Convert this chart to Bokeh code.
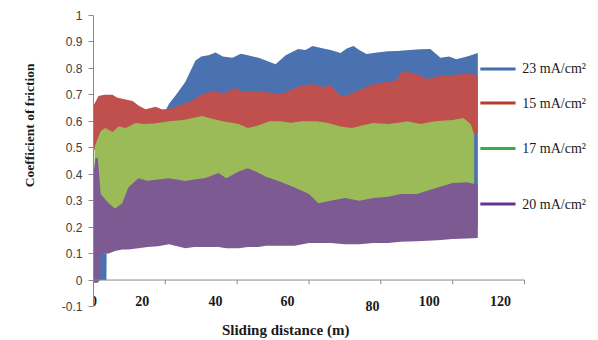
import math
from bokeh.plotting import figure
from bokeh.models import Range1d, FixedTicker, Title
from bokeh.core.properties import value
from bokeh.embed import file_html
from bokeh.resources import INLINE

# ---------------- data ----------------
# 23 mA/cm2 (blue) band
blue_x = [1.8, 3.6, 3.7, 10, 20, 21, 23, 25.6, 27, 28.4, 30, 32, 34, 36, 38.7, 41, 43, 46, 48, 50.7,
          53.5, 55, 57, 59, 61, 64, 66, 68.8, 70.5, 72.4, 74, 76, 79, 82, 84.6, 88, 91, 93.8, 96.6,
          99, 101, 104, 107]
blue_hi = [0.1, 0.1, 0.6, 0.6, 0.64, 0.665, 0.70, 0.75, 0.79, 0.83, 0.845, 0.85, 0.86, 0.845, 0.84,
           0.855, 0.85, 0.84, 0.83, 0.816, 0.85, 0.86, 0.873, 0.87, 0.885, 0.875, 0.87, 0.858, 0.875,
           0.885, 0.87, 0.854, 0.86, 0.865, 0.866, 0.87, 0.872, 0.873, 0.84, 0.845, 0.835, 0.845, 0.858]
blue_lo = [0.0, 0.0, 0.2, 0.2, 0.2, 0.2, 0.2, 0.2, 0.2, 0.2, 0.2, 0.2, 0.2, 0.2, 0.2, 0.2, 0.2, 0.2,
           0.2, 0.2, 0.2, 0.2, 0.2, 0.2, 0.2, 0.2, 0.2, 0.2, 0.2, 0.2, 0.2, 0.2, 0.2, 0.2, 0.2, 0.2,
           0.2, 0.2, 0.2, 0.2, 0.2, 0.2, 0.2]

# 15 mA/cm2 (red) band
red_x = [0, 1.4, 3, 5.3, 6.5, 8, 10.9, 12.5, 14.5, 17.3, 19, 20.9, 23, 24.8, 27, 30, 32, 34, 36, 39.5,
         42, 45, 48, 52.6, 56, 58, 61, 64, 66, 68.8, 71, 73.4, 76, 78, 82, 84, 86, 88, 90, 93, 96,
         100, 104, 107]
red_hi = [0.66, 0.696, 0.70, 0.70, 0.69, 0.685, 0.677, 0.66, 0.646, 0.655, 0.646, 0.646, 0.655, 0.665,
          0.675, 0.70, 0.71, 0.715, 0.705, 0.726, 0.71, 0.715, 0.71, 0.703, 0.726, 0.735, 0.74, 0.73,
          0.735, 0.695, 0.70, 0.715, 0.73, 0.74, 0.75, 0.75, 0.79, 0.785, 0.778, 0.76, 0.77, 0.775,
          0.78, 0.775]
red_lo = [0.49, 0.5, 0.5, 0.5, 0.5, 0.5, 0.5, 0.5, 0.5, 0.5, 0.5, 0.5, 0.5, 0.5, 0.5, 0.5, 0.5, 0.5,
          0.5, 0.5, 0.5, 0.5, 0.5, 0.5, 0.5, 0.5, 0.5, 0.5, 0.5, 0.5, 0.5, 0.5, 0.5, 0.5, 0.5, 0.5,
          0.5, 0.5, 0.5, 0.5, 0.5, 0.5, 0.55, 0.555]

# 17 mA/cm2 (green) band
green_x = [0.3, 0.6, 2, 3.3, 5.3, 7, 9, 11.7, 14, 17, 21, 25, 30.3, 33, 36, 40.4, 43, 46, 49, 52, 55,
           58, 62, 65, 68.8, 72, 75, 78, 82, 85, 87.4, 91, 95, 100, 103, 105, 106]
green_hi = [0.50, 0.514, 0.563, 0.575, 0.56, 0.58, 0.575, 0.594, 0.59, 0.592, 0.60, 0.605, 0.62, 0.61,
            0.60, 0.59, 0.575, 0.585, 0.60, 0.60, 0.595, 0.60, 0.60, 0.595, 0.58, 0.575, 0.585, 0.594,
            0.59, 0.595, 0.60, 0.59, 0.60, 0.605, 0.613, 0.59, 0.55]
green_lo = [0.25, 0.25, 0.25, 0.25, 0.25, 0.25, 0.25, 0.25, 0.25, 0.25, 0.25, 0.25, 0.25, 0.25, 0.25,
            0.25, 0.25, 0.25, 0.25, 0.25, 0.25, 0.25, 0.25, 0.25, 0.25, 0.25, 0.25, 0.25, 0.25, 0.25,
            0.25, 0.25, 0.25, 0.25, 0.25, 0.25, 0.3]

# 20 mA/cm2 (purple) band
purple_x = [0, 0.5, 1.2, 1.8, 2, 4.2, 6, 8, 9.7, 12.5, 15, 18, 21, 25.6, 28, 31.2, 34.8, 37, 40.4, 43,
            46, 48, 51.5, 56, 60, 62.6, 66, 70, 74, 78, 82, 85.5, 90, 95.8, 100, 104, 107]
purple_hi = [0.40, 0.46, 0.46, 0.36, 0.325, 0.29, 0.27, 0.29, 0.35, 0.385, 0.375, 0.38, 0.385, 0.374,
             0.38, 0.386, 0.405, 0.385, 0.41, 0.423, 0.405, 0.39, 0.374, 0.35, 0.325, 0.29, 0.30, 0.31,
             0.30, 0.31, 0.315, 0.325, 0.325, 0.35, 0.367, 0.37, 0.36]
purple_lo = [-0.01, -0.01, -0.01, 0.0, 0.098, 0.10, 0.11, 0.115, 0.115, 0.12, 0.125, 0.128, 0.135, 0.12,
             0.125, 0.125, 0.125, 0.12, 0.12, 0.125, 0.125, 0.13, 0.13, 0.13, 0.14, 0.14, 0.14, 0.135,
             0.135, 0.14, 0.14, 0.145, 0.147, 0.15, 0.155, 0.157, 0.159]

series_names = ["23 mA/cm\u00b2", "15 mA/cm\u00b2", "17 mA/cm\u00b2", "20 mA/cm\u00b2"]
legend_y = [0.798, 0.669, 0.497, 0.287]

y_tick_labels = ["-0.1", "0", "0.1", "0.2", "0.3", "0.4", "0.5", "0.6", "0.7", "0.8", "0.9", "1"]
x_ticks = [0, 20, 40, 60, 80, 100, 120]
x_tick_labels = ["0", "20", "40", "60", "80", "100", "120"]
# where the labels sit in the picture (they are not on the tick marks)
x_label_pos = [0, 13.6, 34, 54, 77.7, 93.5, 113.3]
x_label_y = [-0.079, -0.079, -0.079, -0.079, -0.098, -0.079, -0.079]

x_title = "Sliding distance (m)"
y_title = "Coefficient of friction"

# ---------------- styling ----------------
fill_colors = ["#4a72b0", "#c0504d", "#9bbb59", "#7d5a92"]
legend_colors = ["#3f6fad", "#b83b32", "#3aaa4a", "#6b3388"]
serif = "Liberation Serif"
axis_grey = "#8a8a8a"
ink = "#1a1a1a"

# axis 0..120 spans 431 px, -0.1..1 spans 291 px; the frame runs on to the
# right and bottom edges of the canvas so that all texts live inside it
px_per_x = 431 / 120.0
px_per_y = 291 / 1.1
x_end = 120 + 74 / px_per_x
y_start = -0.1 - 34 / px_per_y

p = figure(width=598, height=340, output_backend="svg", toolbar_location=None,
           x_range=Range1d(0, x_end), y_range=Range1d(y_start, 1.0),
           min_border_left=93, min_border_right=0, min_border_top=15, min_border_bottom=0)
p.outline_line_color = None
p.grid.visible = False
p.xaxis.visible = False
p.background_fill_color = "white"
p.border_fill_color = "white"

ya = p.yaxis[0]
y_ticks = [float(s) for s in y_tick_labels]
ya.ticker = FixedTicker(ticks=y_ticks)
ya.bounds = (y_ticks[0], y_ticks[-1])
ya.major_label_overrides = {float(s): s for s in y_tick_labels}
ya.axis_line_color = axis_grey
ya.major_tick_line_color = axis_grey
ya.major_tick_out = 5
ya.major_tick_in = 0
ya.minor_tick_line_color = None
ya.major_label_standoff = 6
ya.major_label_text_font = "Liberation Sans"
ya.major_label_text_font_size = "12px"
ya.major_label_text_color = "#404040"

p.add_layout(Title(text=y_title, align="right", offset=48, standoff=40, vertical_align="top",
                   text_font=serif, text_font_style="bold", text_font_size="13.5px",
                   text_color=ink), "left")

# bands
bands = [(blue_x, blue_lo, blue_hi), (red_x, red_lo, red_hi),
         (green_x, green_lo, green_hi), (purple_x, purple_lo, purple_hi)]
for (bx, lo, hi), c in zip(bands, fill_colors):
    p.varea(x=bx, y1=lo, y2=hi, fill_color=c, fill_alpha=1.0)

# horizontal axis line at y = 0 with tick marks
p.segment(x0=[x_ticks[0]], y0=[0], x1=[x_ticks[-1]], y1=[0], line_color=axis_grey, line_width=1)
p.segment(x0=x_ticks[1:], y0=[0] * (len(x_ticks) - 1), x1=x_ticks[1:], y1=[-0.016] * (len(x_ticks) - 1),
          line_color=axis_grey, line_width=1)

p.text(x=x_label_pos, y=x_label_y, text=x_tick_labels, text_font=value(serif),
       text_font_style="bold", text_font_size="14px", text_align="center",
       text_baseline="middle", text_color=ink)

# x-axis title
p.text(x=[53.5], y=[-0.187], text=[x_title], text_font=value(serif), text_font_style="bold",
       text_font_size="15px", text_align="center", text_baseline="middle", text_color=ink)

# legend (line + text)
p.segment(x0=[107.7] * 4, y0=legend_y, x1=[117.5] * 4, y1=legend_y, line_color=legend_colors, line_width=3)
p.text(x=[119.4] * 4, y=legend_y, text=series_names, text_font=value(serif), text_font_size="14px",
       text_align="left", text_baseline="middle", text_color=ink)

open("out.html", "w").write(file_html(p, INLINE))
